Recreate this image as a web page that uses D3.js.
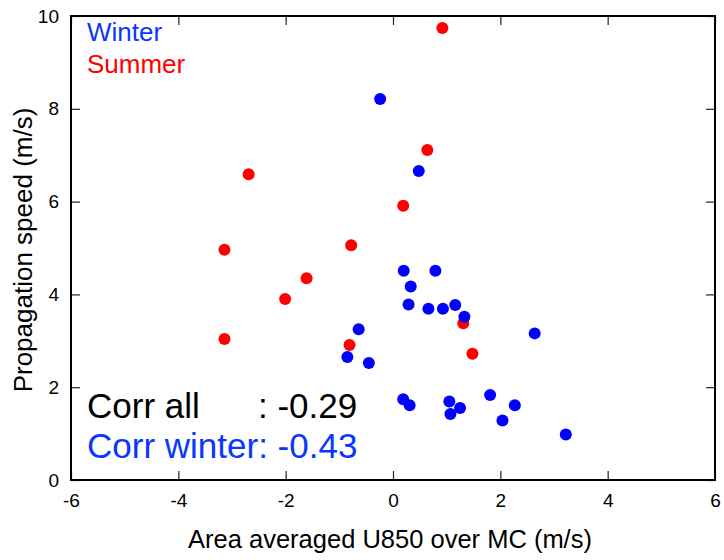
<!DOCTYPE html>
<html>
<head>
<meta charset="utf-8">
<script src="https://cdn.jsdelivr.net/npm/d3@7"></script>
<style>
  html, body { margin: 0; padding: 0; background: #fff; }
  svg { display: block; }
  text { font-family: "Liberation Sans", Arial, Helvetica, sans-serif; }
</style>
</head>
<body>
<svg id="chart" width="724" height="560"></svg>
<script>
// ---- data ----
const summerX = [0.92, 0.64, 0.19, -0.78, -2.69, -3.14, -1.61, -2.01, -3.14, -0.81, 1.31, 1.48];
const summerY = [9.74, 7.11, 5.91, 5.06, 6.59, 4.96, 4.35, 3.90, 3.04, 2.91, 3.38, 2.72];
const winterX = [-0.24, 0.48, 0.20, 0.79, 0.33, 0.29, 0.66, 0.93, 1.16, 1.33, 2.64, -0.64, -0.85, -0.45, 0.19, 0.31, 1.05, 1.07, 1.25, 1.81, 2.27, 2.04, 3.22];
const winterY = [8.21, 6.66, 4.51, 4.51, 4.17, 3.78, 3.69, 3.69, 3.77, 3.52, 3.16, 3.25, 2.65, 2.52, 1.74, 1.61, 1.69, 1.42, 1.55, 1.83, 1.61, 1.28, 0.98];
const xTicks = [-6, -4, -2, 0, 2, 4, 6];
const yTicks = [0, 2, 4, 6, 8, 10];
const legendLabels = ["Winter", "Summer"];
const corrLabels = ["Corr all", ": -0.29", "Corr winter: -0.43"];

// ---- layout ----
const svg = d3.select("#chart");
const pLeft = 71, pRight = 715, pTop = 16, pBottom = 480;
const x = d3.scaleLinear().domain([-6, 6]).range([pLeft, pRight]);
const y = d3.scaleLinear().domain([0, 10]).range([pBottom, pTop]);
const blue = "#0000ff", red = "#ff0000", blueText = "#0a37ff";

// ticks (inward, mirrored)
const tickLen = 9;
const fmt = d => String(d);
const axB = d3.axisBottom(x).tickValues(xTicks).tickSizeInner(-tickLen).tickSizeOuter(0).tickPadding(14).tickFormat(fmt);
const axT = d3.axisTop(x).tickValues(xTicks).tickSizeInner(-tickLen).tickSizeOuter(0).tickFormat("");
const axL = d3.axisLeft(y).tickValues(yTicks).tickSizeInner(-tickLen).tickSizeOuter(0).tickPadding(12).tickFormat(fmt);
const axR = d3.axisRight(y).tickValues(yTicks).tickSizeInner(-tickLen).tickSizeOuter(0).tickFormat("");

function styleAxis(g) {
  g.select(".domain").remove();
  g.selectAll(".tick line").attr("stroke", "#222").attr("stroke-width", 1.2);
  g.selectAll(".tick text").attr("fill", "#000").style("font-size", "19px")
    .style("font-family", "'Liberation Sans', Arial, Helvetica, sans-serif");
}
svg.append("g").attr("transform", `translate(0,${pBottom})`).call(axB).call(styleAxis);
svg.append("g").attr("transform", `translate(0,${pTop})`).call(axT).call(styleAxis);
svg.append("g").attr("transform", `translate(${pLeft},0)`).call(axL).call(styleAxis);
svg.append("g").attr("transform", `translate(${pRight},0)`).call(axR).call(styleAxis);

// frame
svg.append("rect").attr("x", pLeft).attr("y", pTop).attr("width", pRight - pLeft).attr("height", pBottom - pTop)
  .attr("fill", "none").attr("stroke", "#000").attr("stroke-width", 2);

// points
const summer = summerX.map((v, i) => ({ x: v, y: summerY[i] }));
const winter = winterX.map((v, i) => ({ x: v, y: winterY[i] }));
svg.append("g").selectAll("circle").data(summer).join("circle")
  .attr("cx", d => x(d.x)).attr("cy", d => y(d.y)).attr("r", 6).attr("fill", red);
svg.append("g").selectAll("circle").data(winter).join("circle")
  .attr("cx", d => x(d.x)).attr("cy", d => y(d.y)).attr("r", 6).attr("fill", blue);

// legend
svg.append("text").attr("x", 87).attr("y", 41).attr("fill", blueText).style("font-size", "26px").text(legendLabels[0]);
svg.append("text").attr("x", 87).attr("y", 73).attr("fill", red).style("font-size", "26px").text(legendLabels[1]);

// correlation text
svg.append("text").attr("x", 87).attr("y", 418).attr("fill", "#000").style("font-size", "35px").text(corrLabels[0]);
svg.append("text").attr("x", 258).attr("y", 418).attr("fill", "#000").style("font-size", "35px").text(corrLabels[1]);
svg.append("text").attr("x", 87).attr("y", 458).attr("fill", blueText).style("font-size", "35px").text(corrLabels[2]);

// axis titles
svg.append("text").attr("x", 390).attr("y", 548).attr("text-anchor", "middle").style("font-size", "25.5px")
  .text("Area averaged U850 over MC (m/s)");
svg.append("text").attr("transform", "translate(32,250) rotate(-90)").attr("text-anchor", "middle").style("font-size", "26px")
  .text("Propagation speed (m/s)");
</script>
</body>
</html>
